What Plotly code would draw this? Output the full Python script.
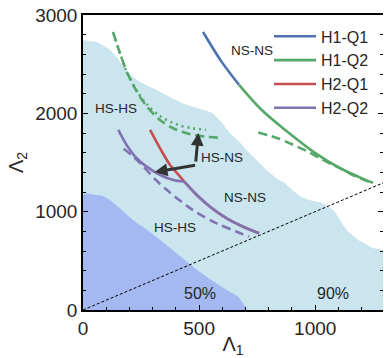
import plotly.graph_objects as go

# ---------------- data ----------------
# 90% region upper boundary (Lambda1, Lambda2)
r90_x = [0, 60, 110, 146, 189, 245, 318, 386, 430, 470, 520, 558, 600, 631, 674, 704, 747, 790, 833, 870, 901, 940, 974, 1026, 1060, 1085, 1110, 1140, 1185, 1249, 1292]
r90_y = [2746, 2726, 2660, 2573, 2420, 2319, 2237, 2150, 2100, 2070, 2035, 2003, 1900, 1800, 1709, 1627, 1525, 1424, 1340, 1290, 1220, 1150, 1119, 1090, 1050, 1000, 900, 800, 712, 630, 610]
# 50% region upper boundary
r50_x = [0, 57, 85, 115, 158, 215, 287, 359, 431, 502, 574, 632, 668, 689, 703]
r50_y = [1170, 1170, 1160, 1119, 1034, 915, 797, 661, 525, 390, 271, 186, 136, 68, 0]

# H1-Q1 (solid, blue)
h1q1_x = [517, 595, 672]
h1q1_y = [2827, 2531, 2290]
# H1-Q2 (solid, green)
h1q2_x = [672, 771, 887, 999, 1102, 1214, 1249]
h1q2_y = [2290, 2031, 1800, 1598, 1449, 1326, 1294]
# H1-Q2 dashed branches
h1q2d_a_x = [129, 159, 189, 232, 275, 330, 386, 430, 468, 530, 601]
h1q2d_a_y = [2827, 2614, 2420, 2220, 2070, 1935, 1851, 1810, 1785, 1762, 1750]
h1q2d_b_x = [755, 800, 841, 900, 960, 1020, 1073, 1120, 1160, 1200, 1235]
h1q2d_b_y = [1805, 1775, 1745, 1685, 1620, 1545, 1480, 1425, 1375, 1335, 1300]
# H1-Q2 dotted branch
h1q2o_x = [140, 159, 189, 232, 275, 330, 380, 420, 472, 530]
h1q2o_y = [2750, 2614, 2420, 2230, 2090, 1975, 1910, 1875, 1848, 1832]
# H2-Q1 (solid, red)
h2q1_x = [289, 332, 375, 418, 436, 490, 547, 619, 690, 758]
h2q1_y = [1831, 1644, 1475, 1356, 1305, 1170, 1051, 932, 847, 780]
# H2-Q2 (solid, purple): left branch + lower branch
h2q2a_x = [152, 188, 231, 274, 332, 389, 436]
h2q2a_y = [1831, 1678, 1543, 1458, 1373, 1322, 1305]
h2q2b_x = [436, 490, 547, 619, 690, 758]
h2q2b_y = [1305, 1170, 1051, 932, 847, 780]
# H2-Q2 dashed
h2q2d_x = [175, 217, 260, 317, 360, 403, 450, 490, 576, 662, 715]
h2q2d_y = [1640, 1560, 1460, 1315, 1222, 1140, 1055, 990, 881, 796, 746]

# diagonal Lambda2 = Lambda1
diag_x = [0, 1292]
diag_y = [0, 1292]

legend_names = ["H1-Q1", "H1-Q2", "H2-Q1", "H2-Q2"]
colors = ["#4c72b0", "#55a868", "#c44e52", "#8172b2"]

labels = ["NS-NS", "HS-HS", "HS-NS", "NS-NS", "HS-HS"]
labels_x = [728, 142, 599, 698, 398]
labels_y = [2644, 2054, 1546, 1149, 839]
pct_labels = ["50%", "90%"]
pct_x = [506, 1077]
pct_y = [170, 170]

# arrows: (tail -> tip)
arrows_tail = [(485, 1495), (489, 1475)]
arrows_tip = [(497, 1800), (309, 1403)]

FONT = "Liberation Sans, Arial, sans-serif"
LIGHT = "#cbe5ee"
DARK = "#a4b9f1"

fig = go.Figure()

# shaded regions
fig.add_trace(go.Scatter(x=[0] + r90_x + [r90_x[-1], 0], y=[0] + r90_y + [0, 0],
                         fill="toself", fillcolor=LIGHT, mode="none", showlegend=False, hoverinfo="skip"))
fig.add_trace(go.Scatter(x=[0] + r50_x + [0], y=[0] + r50_y + [0],
                         fill="toself", fillcolor=DARK, mode="none", showlegend=False, hoverinfo="skip",
                         line=dict(shape="spline")))

# diagonal
fig.add_trace(go.Scatter(x=diag_x, y=diag_y, mode="lines", line=dict(color="black", width=1, dash="3px,2px"),
                         showlegend=False, hoverinfo="skip"))

W = 2.6
SM = 0.9
# dashed / dotted (not in legend)
fig.add_trace(go.Scatter(x=h1q2d_a_x, y=h1q2d_a_y, mode="lines", line=dict(color=colors[1], width=W, dash="9px,5px", shape="spline", smoothing=SM), showlegend=False))
fig.add_trace(go.Scatter(x=h1q2o_x, y=h1q2o_y, mode="lines", line=dict(color=colors[1], width=W, dash="2px,4px", shape="spline", smoothing=SM), showlegend=False))
fig.add_trace(go.Scatter(x=h1q2d_b_x, y=h1q2d_b_y, mode="lines", line=dict(color=colors[1], width=W, dash="9px,5px", shape="spline", smoothing=SM), showlegend=False))
fig.add_trace(go.Scatter(x=h2q2d_x, y=h2q2d_y, mode="lines", line=dict(color=colors[3], width=W, dash="9px,5px", shape="spline", smoothing=SM), showlegend=False))

# solid legend curves
solid = [(legend_names[0], h1q1_x, h1q1_y, colors[0], True),
         (legend_names[1], h1q2_x, h1q2_y, colors[1], True),
         (legend_names[2], h2q1_x, h2q1_y, colors[2], True),
         (legend_names[3], h2q2a_x, h2q2a_y, colors[3], True),
         (legend_names[3], h2q2b_x, h2q2b_y, colors[3], False)]
for name, xs, ys, c, show in solid:
    fig.add_trace(go.Scatter(x=xs, y=ys, mode="lines", name=name, legendgroup=name, showlegend=show,
                             line=dict(color=c, width=W, shape="spline", smoothing=SM)))

annotations = []
for t, x, y in zip(labels, labels_x, labels_y):
    annotations.append(dict(x=x, y=y, text=t, showarrow=False, font=dict(family=FONT, size=13.5, color="#262626")))
for t, x, y in zip(pct_labels, pct_x, pct_y):
    annotations.append(dict(x=x, y=y, text=t, showarrow=False, font=dict(family=FONT, size=16, color="#262626")))
for (tx, ty), (hx, hy) in zip(arrows_tail, arrows_tip):
    annotations.append(dict(x=hx, y=hy, ax=tx, ay=ty, axref="x", ayref="y", text="", showarrow=True,
                            arrowhead=2, arrowsize=0.85, arrowwidth=3, arrowcolor="#333333"))

axis_common = dict(showline=True, linecolor="black", linewidth=1.5, ticks="inside", ticklen=5, tickwidth=1,
                   tickcolor="black", showgrid=False, zeroline=False,
                   tickfont=dict(family=FONT, size=19, color="#262626"))

fig.update_layout(
    width=384, height=358,
    margin=dict(l=83, r=1, t=15, b=48, autoexpand=False),
    plot_bgcolor="white", paper_bgcolor="white",
    xaxis=dict(range=[0, 1292], tickvals=[0, 500, 1000], mirror=True,
               minor=dict(dtick=100, tick0=0, ticks="inside", ticklen=3, tickcolor="black"),
               title=dict(text="Λ<sub>1</sub>", font=dict(family=FONT, size=20, color="#262626"), standoff=8),
               **axis_common),
    yaxis=dict(range=[0, 3000], tickvals=[0, 1000, 2000, 3000], mirror=False,
               minor=dict(dtick=200, tick0=0, ticks="inside", ticklen=3, tickcolor="black"),
               title=dict(text="Λ<sub>2</sub>", font=dict(family=FONT, size=20, color="#262626"), standoff=6),
               **axis_common),
    yaxis2=dict(range=[0, 3000], overlaying="y", side="right", showline=False, ticks="inside", ticklen=5,
                tickcolor="black", tickvals=[0, 1000, 2000, 3000], showticklabels=False, showgrid=False, zeroline=False,
                minor=dict(dtick=200, tick0=0, ticks="inside", ticklen=3, tickcolor="black")),
    legend=dict(x=0.62, y=0.985, xanchor="left", yanchor="top", bgcolor="rgba(0,0,0,0)", itemwidth=42,
                font=dict(family=FONT, size=16, color="#262626"), tracegroupgap=0),
    annotations=annotations,
)
fig.add_trace(go.Scatter(x=[None], y=[None], yaxis="y2", showlegend=False))

fig.write_html("out.html")
